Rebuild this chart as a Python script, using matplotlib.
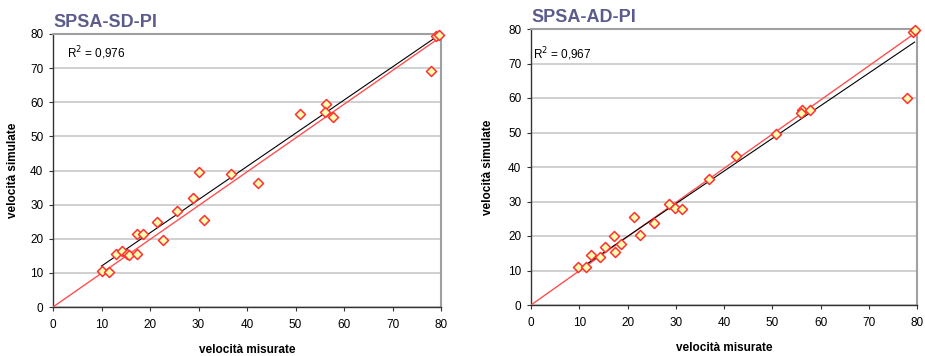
import matplotlib
matplotlib.use("Agg")
import matplotlib.pyplot as plt

plt.rcParams['font.family'] = ['Liberation Sans', 'DejaVu Sans']

# --- data: SPSA-SD-PI ---
sd_measured = [10.0, 11.5, 12.9, 14.3, 15.2, 15.7, 17.4, 17.3, 18.6, 21.5, 22.7,
               25.6, 28.8, 30.0, 31.2, 36.8, 42.3, 51.0, 56.2, 56.0, 57.7, 77.9,
               79.0, 79.5]
sd_simulated = [10.6, 10.4, 15.5, 16.5, 15.5, 15.3, 15.5, 21.5, 21.5, 25.0, 19.5,
                28.0, 32.0, 39.5, 25.6, 39.0, 36.3, 56.6, 59.5, 57.0, 55.8, 69.1,
                79.3, 79.7]
sd_trend_x = [10, 79.5]
sd_trend_y = [12.0, 79.6]
sd_ref_x = [0, 79.8]
sd_ref_y = [0, 79.0]
sd_r2 = "0,976"

# --- data: SPSA-AD-PI ---
ad_measured = [9.7, 11.4, 12.5, 14.3, 15.4, 17.3, 17.5, 18.6, 21.3, 22.6, 25.4,
               28.7, 29.8, 31.2, 36.8, 42.5, 50.8, 56.2, 56.0, 57.8, 77.9, 79.2,
               79.5]
ad_simulated = [10.9, 11.0, 14.6, 13.9, 16.7, 20.0, 15.4, 17.8, 25.5, 20.4, 23.9,
                29.2, 28.2, 27.9, 36.5, 43.3, 49.5, 56.5, 55.6, 56.6, 60.1, 79.1,
                79.6]
ad_trend_x = [10, 79.5]
ad_trend_y = [10.4, 76.2]
ad_ref_x = [0, 79.8]
ad_ref_y = [0, 79.0]
ad_r2 = "0,967"

ticks = [0, 10, 20, 30, 40, 50, 60, 70, 80]

W, H = 925, 356
fig = plt.figure(figsize=(W / 100, H / 100), dpi=100)

def px_axes(x0, y0, x1, y1):
    return fig.add_axes([x0 / W, 1 - y1 / H, (x1 - x0) / W, (y1 - y0) / H])

panels = [
    (px_axes(53, 34, 441, 307), "SPSA-SD-PI", sd_measured, sd_simulated,
     sd_trend_x, sd_trend_y, sd_ref_x, sd_ref_y, sd_r2, (0.036, 0.93), 8),
    (px_axes(531, 29, 917, 305), "SPSA-AD-PI", ad_measured, ad_simulated,
     ad_trend_x, ad_trend_y, ad_ref_x, ad_ref_y, ad_r2, (0.006, 0.91), 10),
]

for ax, title, xs, ys, tx, ty, rx, ry, r2, r2pos, ylpad in panels:
    ax.set_xlim(0, 80)
    ax.set_ylim(0, 80)
    ax.set_xticks(ticks)
    ax.set_yticks(ticks)
    ax.tick_params(labelsize=8.5, length=3, width=0.8, color='#333333')
    ax.tick_params(axis='x', pad=6)
    ax.tick_params(axis='y', pad=4)
    ax.yaxis.grid(True, color='#c8c8c8', linewidth=1.2)
    ax.set_axisbelow(True)
    for s in ['left', 'bottom']:
        ax.spines[s].set_color('#333333')
        ax.spines[s].set_linewidth(1.0)
    for s in ['top', 'right']:
        ax.spines[s].set_color('#a0a0a0')
        ax.spines[s].set_linewidth(1.5)
    ax.plot(rx, ry, color='#ff5050', linewidth=1.0, zorder=3)
    ax.plot(tx, ty, color='black', linewidth=0.8, zorder=3)
    ax.scatter(xs, ys, marker='D', s=26, facecolor='#ffffb0', edgecolor='#ff3030',
               linewidths=1.1, zorder=4, clip_on=False)
    ax.text(r2pos[0], r2pos[1], r"R$^{2}$ = " + r2, transform=ax.transAxes,
            fontsize=8.5, va='center', ha='left')
    ax.set_xlabel("velocità misurate", fontsize=8.5, fontweight='bold', labelpad=9)
    ax.set_ylabel("velocità simulate", fontsize=8.5, fontweight='bold', labelpad=ylpad)
    ax.text(0.0, 1.01, title, transform=ax.transAxes, fontsize=13,
            fontweight='bold', color='#5c5c8c', ha='left', va='bottom')

fig.savefig("out.png", dpi=100)
